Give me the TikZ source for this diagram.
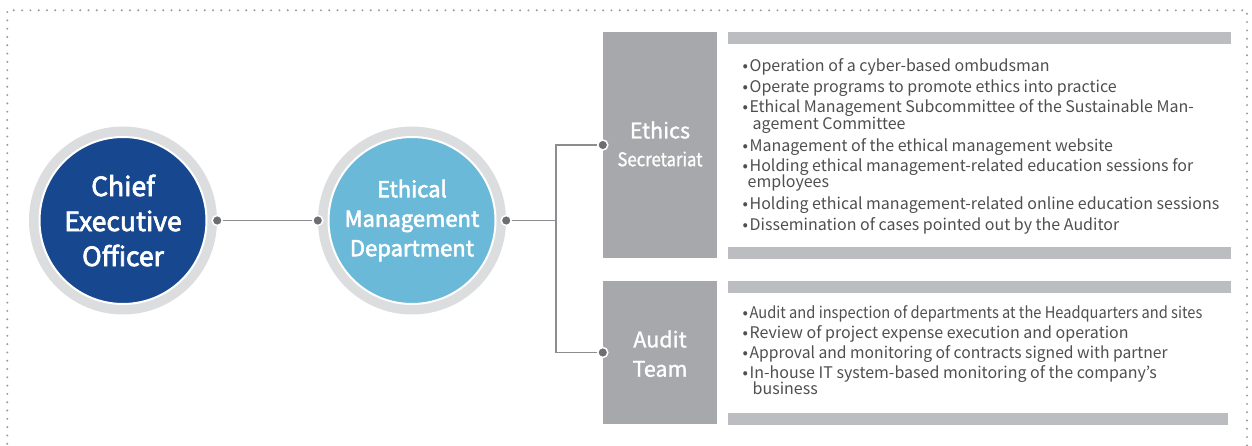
\documentclass[tikz,border=0pt]{standalone}
\usepackage{fontspec}
\setmainfont{Noto Sans CJK KR}
\newfontfamily\medfont{Noto Sans CJK KR}[FakeBold=2.6]
\newfontfamily\semifont{Noto Sans CJK KR}[FakeBold=1.3]
\definecolor{ceoblue}{HTML}{17488F}
\definecolor{emdblue}{HTML}{6BB9D8}
\definecolor{ringgray}{HTML}{DCDDDF}
\definecolor{boxgray}{HTML}{A7A8AB}
\definecolor{bargray}{HTML}{BCBDC0}
\definecolor{dotgray}{HTML}{6D6E71}
\definecolor{linegray}{HTML}{8C8D90}
\definecolor{txtgray}{HTML}{4F4F51}
\definecolor{framegray}{HTML}{9A9B9E}
\tikzset{
  ring/.style={circle, fill=ringgray, minimum size=188pt, inner sep=0pt},
  core/.style={circle, draw=white, line width=2pt, minimum size=167pt, inner sep=0pt,
    text=white, align=center},
  dotnode/.style={circle, fill=dotgray, draw=white, line width=1.5pt, minimum size=10pt, inner sep=0pt},
  conn/.style={draw=linegray, line width=1.3pt},
  graybox/.style={rectangle, fill=boxgray, inner sep=0pt, minimum width=114pt},
  boxtext/.style={text=white, inner sep=0pt, font=\semifont\fontsize{21.5}{21.5}\selectfont},
  listtxt/.style={anchor=base west, inner sep=0pt, text=txtgray, font=\fontsize{16}{16}\selectfont},
}
\newcommand{\bul}{•\kern1.5pt}
\begin{document}
\begin{tikzpicture}[x=1pt,y=-1pt]
\useasboundingbox (0,0) rectangle (1252,446);
\fill[white] (0,0) rectangle (1252,446);
% dotted frame
\draw[framegray, line width=2.2pt, line cap=round, dash pattern=on 0pt off 8.3pt]
  (7.3,452) -- (7.3,10.3) -- (1247,10.3) -- (1247,452);

% circles
\node[ring] (ceoring) at (123,220.5) {};
\node[core, fill=ceoblue, font=\medfont\fontsize{26.5}{35}\selectfont] (ceo) at (123,220.5)
  {Chief\\Executive\\Officer};
\node[ring] (emdring) at (412,220.5) {};
\node[core, fill=emdblue, font=\medfont\fontsize{22}{29.5}\selectfont] (emd) at (412,220.5)
  {Ethical\\Management\\Department};

% boxes
\node[graybox, minimum height=226pt] (eth) at (660,145) {};
\node[graybox, minimum height=143pt] (aud) at (660,352.5) {};
\node[boxtext] (ethT) at (660,130) {Ethics};
\node[boxtext] (ethS) at (660,159) {\scalebox{0.88}[1]{\fontsize{19}{19}\selectfont Secretariat}};
\node[boxtext] (audT) at (660,339) {Audit};
\node[boxtext] (audS) at (660,369) {Team};

% connectors
\node[dotnode] (d1) at (ceoring.east) {};
\node[dotnode] (d2) at (emdring.west) {};
\node[dotnode] (d3) at (emdring.east) {};
\node[dotnode] (d4) at (eth.west) {};
\node[dotnode] (d5) at (aud.west) {};
\coordinate (bx) at (556,220.5);
\draw[conn] (d1) -- (d2);
\draw[conn] (d3) -- (bx);
\draw[conn] (bx) |- (d4);
\draw[conn] (bx) |- (d5);

% bars
\fill[bargray] (728,32) rectangle (1231,43.7);
\fill[bargray] (728,247) rectangle (1231,258.7);
\fill[bargray] (728,281) rectangle (1231,292.7);
\fill[bargray] (728,412.7) rectangle (1228,424.7);

% ethics list
\node[listtxt] (e1) at (742.5,72) {\bul Operation of a cyber-based ombudsman};
\node[listtxt] (e2) at (742.5,92.5) {\bul Operate programs to promote ethics into practice};
\node[listtxt] (e3) at (742.5,113) {\bul Ethical Management Subcommittee of the Sustainable Man-};
\node[listtxt] (e3b) at (752.5,129.5) {agement Committee};
\node[listtxt] (e4) at (742.5,151.5) {\bul Management of the ethical management website};
\node[listtxt] (e5) at (742.5,172) {\bul Holding ethical management-related education sessions for};
\node[listtxt] (e5b) at (747.5,188) {employees};
\node[listtxt] (e6) at (742.5,209.5) {\bul Holding ethical management-related online education sessions};
\node[listtxt] (e7) at (742.5,231) {\bul Dissemination of cases pointed out by the Auditor};

% audit list
\node[listtxt] (a1) at (742.5,318) {\bul\scalebox{0.915}[1]{Audit and inspection of departments at the Headquarters and sites}};
\node[listtxt] (a2) at (742.5,338) {\bul Review of project expense execution and operation};
\node[listtxt] (a3) at (742.5,358) {\bul\scalebox{0.98}[1]{Approval and monitoring of contracts signed with partner}};
\node[listtxt] (a4) at (742.5,378) {\bul In-house IT system-based monitoring of the company’s};
\node[listtxt] (a4b) at (752.5,394.5) {business};
\end{tikzpicture}
\end{document}
